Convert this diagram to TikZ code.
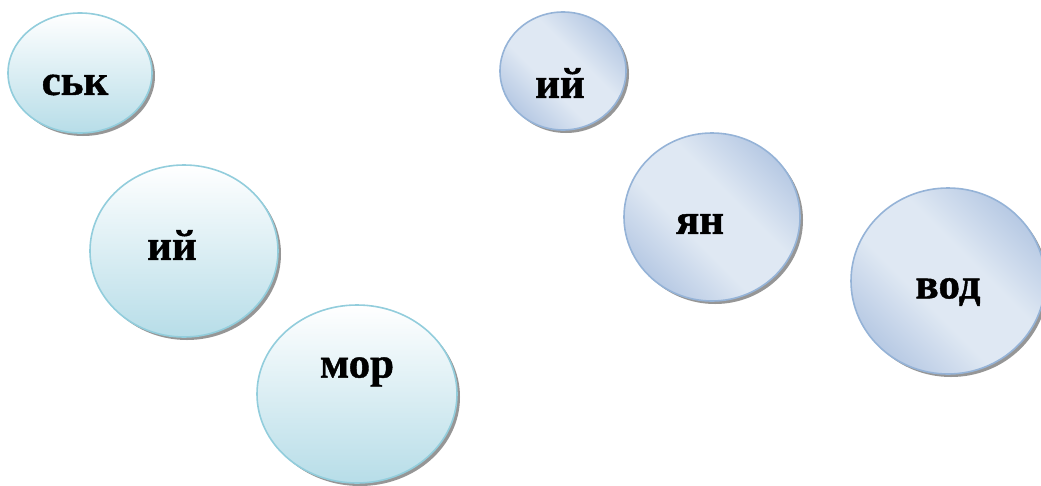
\documentclass[tikz,border=0pt]{standalone}
\usepackage{fontspec}
\setmainfont{Liberation Serif}[BoldFeatures={FakeBold=1}]
\definecolor{tealedge}{RGB}{146,205,220}
\definecolor{tealdark}{RGB}{183,221,232}
\definecolor{blueedge}{RGB}{149,179,215}
\definecolor{bluelight}{RGB}{223,232,243}
\definecolor{bluedark}{RGB}{176,196,225}
\definecolor{shadowgray}{RGB}{150,150,150}
\pgfdeclarehorizontalshading{bluerefl}{100bp}{color(0bp)=(bluedark); color(22bp)=(bluedark); color(42bp)=(bluelight); color(58bp)=(bluelight); color(78bp)=(bluedark); color(100bp)=(bluedark)}
\tikzset{
  x=1pt, y=-1pt,
  bubbleA/.style={ellipse, draw=tealedge, line width=1.6pt, top color=white, bottom color=tealdark, inner sep=0pt},
  bubbleB/.style={ellipse, draw=blueedge, line width=1.6pt, shading=bluerefl, shading angle=45, inner sep=0pt},
  shade/.style={ellipse, fill=shadowgray, inner sep=0pt},
  lbl/.style={font=\fontsize{43}{46}\selectfont\bfseries, inner sep=0pt}
}
\usetikzlibrary{shapes.geometric}
\begin{document}
\begin{tikzpicture}
\useasboundingbox (0,0) rectangle (1041,485);
% shadows
\node[shade, minimum width=144pt, minimum height=120pt] (s1) at (83,76) {};
\node[shade, minimum width=188pt, minimum height=172pt] (s2) at (187,254) {};
\node[shade, minimum width=200pt, minimum height=178pt] (s3) at (360,397) {};
\node[shade, minimum width=126pt, minimum height=118pt] (s4) at (566,74) {};
\node[shade, minimum width=176pt, minimum height=168pt] (s5) at (715,220) {};
\node[shade, minimum width=194pt, minimum height=186pt] (s6) at (951,284) {};
% bubbles
\node[bubbleA, minimum width=144pt, minimum height=120pt] (b1) at (80,73) {};
\node[bubbleA, minimum width=188pt, minimum height=172pt] (b2) at (184,251) {};
\node[bubbleA, minimum width=200pt, minimum height=178pt] (b3) at (357,394) {};
\node[bubbleB, minimum width=126pt, minimum height=118pt] (b4) at (563,71) {};
\node[bubbleB, minimum width=176pt, minimum height=168pt] (b5) at (712,217) {};
\node[bubbleB, minimum width=194pt, minimum height=186pt] (b6) at (948,281) {};
% labels
\node[lbl] (t1) at (75,85) {ськ};
\node[lbl] (t2) at (172,245) {ий};
\node[lbl] (t3) at (357,372) {мор};
\node[lbl] (t4) at (560,83) {ий};
\node[lbl] (t5) at (700,224) {ян};
\node[lbl] (t6) at (948,292) {вод};
\end{tikzpicture}
\end{document}
